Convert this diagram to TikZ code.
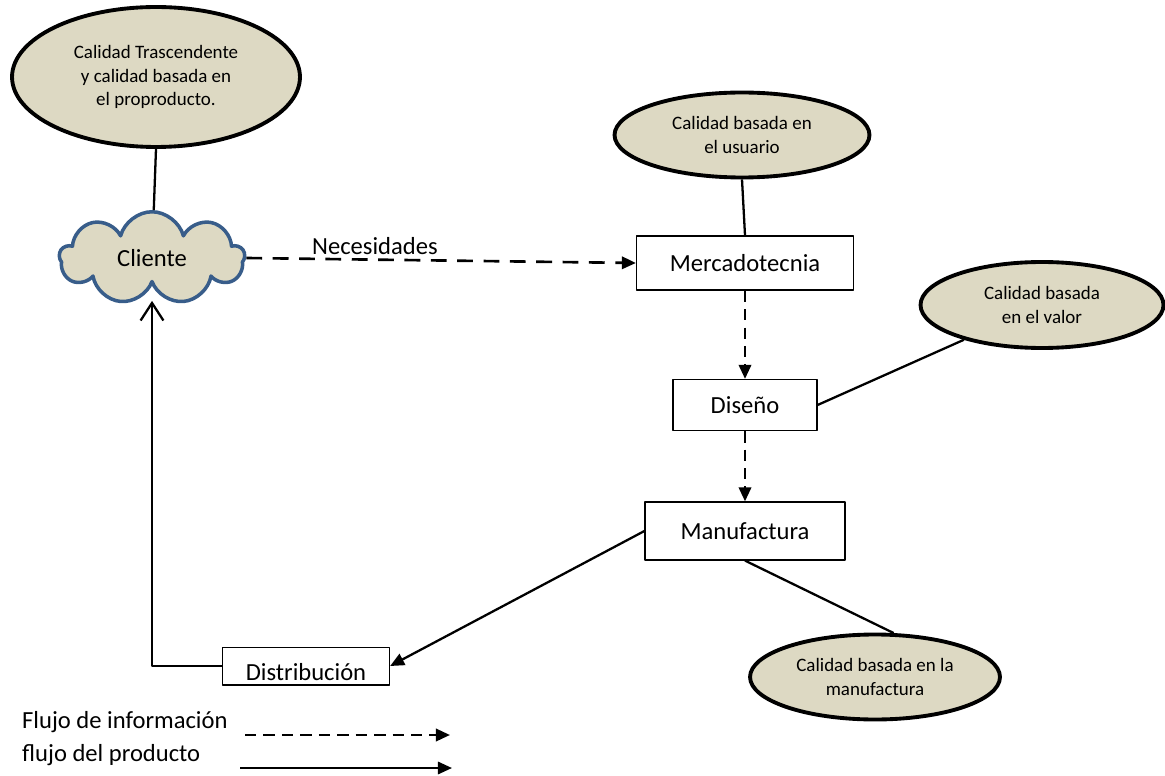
\documentclass[tikz,border=0pt]{standalone}
\usepackage{fontspec}
\setmainfont{Carlito}
\usetikzlibrary{shapes.geometric,shapes.symbols,arrows.meta}
\definecolor{tan}{RGB}{221,217,195}
\definecolor{nube}{RGB}{56,93,138}
\begin{document}
\begin{tikzpicture}[x=0.02cm,y=-0.02cm,line join=round,>={Triangle[length=8pt,width=7pt]},
	calidad/.style={ellipse,draw,line width=2.2pt,fill=tan,align=center,inner sep=0pt,font=\fontsize{10.8}{13.5}\selectfont},
	caja/.style={rectangle,draw,line width=0.7pt,inner sep=0pt,font=\fontsize{14}{16}\selectfont},
	linea/.style={line width=1.3pt},
	info/.style={->,line width=1.5pt,dash pattern=on 6.5pt off 4pt},
	prod/.style={->,line width=1.3pt}]
	%Calidad - flujo del producto
	\useasboundingbox (0,0) rectangle (1165,776);
	\node[calidad,minimum width=5.76cm,minimum height=2.8cm] (trasc) at (156,77) {Calidad Trascendente\\y calidad basada en\\el proproducto.};
	\node[cloud,cloud puffs=9,cloud ignores aspect,draw=nube,line width=2pt,fill=tan,minimum width=3.7cm,minimum height=1.85cm,font=\fontsize{14}{16}\selectfont] (cliente) at (152,258) {Cliente};
	\node[calidad,minimum width=5.1cm,minimum height=1.7cm] (usuario) at (742,135) {Calidad basada en\\el usuario};
	\node[caja,minimum width=4.34cm,minimum height=1.08cm] (merc) at (745,263) {Mercadotecnia};
	\node[calidad,minimum width=4.86cm,minimum height=1.72cm] (valor) at (1042,305) {Calidad basada\\en el valor};
	\node[caja,minimum width=2.88cm,minimum height=1.02cm] (dis) at (745,405) {Diseño};
	\node[caja,minimum width=4cm,minimum height=1.16cm] (manuf) at (745,531) {Manufactura};
	\node[calidad,minimum width=5cm,minimum height=1.7cm] (elmanuf) at (875,677) {Calidad basada en la\\manufactura};
	\node[caja,minimum width=3.34cm,text height=19pt,text depth=2.5pt] (distrib) at (306,666) {Distribución};
	\draw[linea] (trasc.south) -- (cliente);
	\draw[info,dash pattern=on 9pt off 6pt] (cliente.east) -- node[above,pos=0.33,inner sep=2pt,font=\fontsize{14}{16}\selectfont] (necesidad) {Necesidades} (merc.west);
	\draw[linea] (usuario.south) -- (merc.north);
	\draw[info] (merc.south) -- (dis.north);
	\draw[linea] (dis.east) -- (valor.204);
	\draw[info] (dis.south) -- (manuf.north);
	\draw[linea] (manuf.south) -- (elmanuf.67);
	\draw[prod] (manuf.west) -- (distrib.east);
	\draw[linea,-{Straight Barb[length=10pt,width=13pt]}] (distrib.west) -| ([yshift=-0.3cm]cliente.south);
	\node[anchor=base west,font=\fontsize{14}{16}\selectfont] (leginfo) at (16,728) {Flujo de información};
	\node[anchor=base west,font=\fontsize{14}{16}\selectfont] (legprod) at (16,761) {flujo del producto};
	\coordinate (ia) at (245,735);
	\coordinate (ib) at (450,735);
	\coordinate (pa) at (240,768);
	\coordinate (pb) at (452,768);
	\draw[info] (ia) -- (ib);
	\draw[prod] (pa) -- (pb);
\end{tikzpicture}
\end{document}
